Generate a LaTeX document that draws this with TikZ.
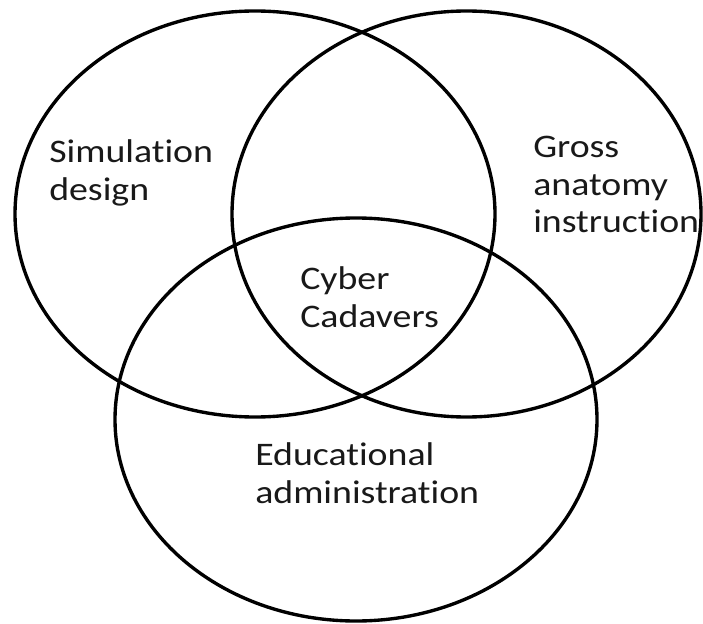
\documentclass[tikz,border=0pt]{standalone}
\usepackage{fontspec}
\setmainfont{Carlito}[FakeStretch=1.15, Ligatures=NoCommon]
\usepackage{tikz}
\usetikzlibrary{positioning}

\begin{document}
\begin{tikzpicture}[
    ring/.style={draw=black, line width=2.4pt},
    lbl/.style={inner sep=0pt, anchor=base west, align=left, text=black!90,
                font=\fontsize{23.4pt}{26.7pt}\selectfont}
  ]
    \useasboundingbox (0,0) rectangle (17.575,15.575);

    % Three overlapping sets
    \draw[ring] (6.375,10.225)  ellipse [x radius=6.0,   y radius=5.075];
    \draw[ring] (11.6625,10.225) ellipse [x radius=5.8625, y radius=5.075];
    \draw[ring] (8.9,5.0875)    ellipse [x radius=6.025, y radius=5.0375];

    % Set labels (base = last line)
    \node[lbl] (sim)   at (1.225,10.575) {Simulation\\design};
    \node[lbl] (gross) at (13.325,9.75)  {Gross\\anatomy\\instruction};
    \node[lbl] (cyber) at (7.5,7.4)      {Cyber\\Cadavers};
    \node[lbl] (edu)   at (6.375,3.0)    {Educational\\administration};
  \end{tikzpicture}
\end{document}
